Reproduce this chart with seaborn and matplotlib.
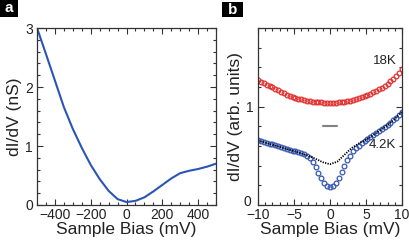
import numpy as np
import pandas as pd
import matplotlib
matplotlib.use("Agg")
import matplotlib.pyplot as plt
import matplotlib.transforms as mtransforms
import seaborn as sns
from matplotlib.ticker import MultipleLocator
from matplotlib.patches import Rectangle

# ---------------- data ----------------
# panel a: dI/dV (nS) vs sample bias (mV)
bias_a = [-500, -450, -400, -350, -300, -250, -200, -150, -100, -50, 0,
          50, 100, 150, 200, 250, 300, 350, 400, 450, 500]
didv_a = [3.00, 2.56, 2.11, 1.66, 1.29, 0.97, 0.68, 0.44, 0.24, 0.10, 0.05,
          0.07, 0.13, 0.23, 0.34, 0.45, 0.54, 0.58, 0.61, 0.65, 0.70]

# panel b: dI/dV (arb. units) vs sample bias (mV)
bias_b = [-10.0, -9.6, -9.2, -8.8, -8.4, -8.0, -7.6, -7.2, -6.8, -6.4,
          -6.0, -5.6, -5.2, -4.8, -4.4, -4.0, -3.6, -3.2, -2.8, -2.4,
          -2.0, -1.6, -1.2, -0.8, -0.4, 0.0, 0.4, 0.8, 1.2, 1.6,
          2.0, 2.4, 2.8, 3.2, 3.6, 4.0, 4.4, 4.8, 5.2, 5.6,
          6.0, 6.4, 6.8, 7.2, 7.6, 8.0, 8.4, 8.8, 9.2, 9.6, 10.0]
didv_18K = [1.270, 1.255, 1.240, 1.225, 1.210, 1.195, 1.180, 1.165, 1.150, 1.136,
            1.122, 1.110, 1.099, 1.090, 1.081, 1.074, 1.067, 1.061, 1.056, 1.052,
            1.048, 1.045, 1.043, 1.041, 1.040, 1.040, 1.041, 1.042, 1.044, 1.047,
            1.051, 1.056, 1.062, 1.069, 1.077, 1.086, 1.096, 1.107, 1.119, 1.132,
            1.146, 1.161, 1.177, 1.194, 1.213, 1.234, 1.257, 1.283, 1.312, 1.345, 1.385]
didv_4K = [0.660, 0.652, 0.643, 0.634, 0.625, 0.616, 0.606, 0.596, 0.586, 0.576,
           0.567, 0.559, 0.552, 0.545, 0.538, 0.530, 0.520, 0.503, 0.478, 0.440,
           0.390, 0.330, 0.275, 0.225, 0.190, 0.178, 0.190, 0.225, 0.275, 0.335,
           0.400, 0.455, 0.500, 0.545, 0.578, 0.605, 0.628, 0.650, 0.672, 0.693,
           0.713, 0.733, 0.753, 0.773, 0.793, 0.815, 0.838, 0.862, 0.887, 0.915, 0.950]

bias_fit = [-10, -9, -8, -7, -6, -5, -4, -3, -2, -1, 0, 1, 2, 3, 4, 5, 6, 7, 8, 9, 10]
didv_fit = [0.655, 0.635, 0.613, 0.592, 0.570, 0.548, 0.525, 0.500, 0.470, 0.435, 0.415,
            0.440, 0.510, 0.580, 0.625, 0.665, 0.710, 0.765, 0.815, 0.875, 0.950]

gap_bar_x = [-0.95, 0.95]
gap_bar_y = [0.80, 0.80]

labels_b = ["18K", "4.2K"]

# ---------------- style ----------------
sns.set_style("ticks")
plt.rcParams["font.family"] = ["Liberation Sans", "DejaVu Sans"]
plt.rcParams["xtick.direction"] = "in"
plt.rcParams["ytick.direction"] = "in"

fig = plt.figure(figsize=(4.09, 2.46), dpi=100)
ax1 = fig.add_axes([37 / 409, 1 - 205 / 246, (216 - 37) / 409, (205 - 28) / 246])
ax2 = fig.add_axes([258 / 409, 1 - 205 / 246, (402 - 258) / 409, (205 - 28) / 246])

blue_line = "#2b55b4"
blue_pts = "#3558b0"
red_pts = "#e2302f"
txt = "#222222"

# panel a
sns.lineplot(x=bias_a, y=didv_a, ax=ax1, color=blue_line, lw=1.5)
ax1.set_xlim(-500, 500)
ax1.set_ylim(0, 3)
ax1.xaxis.set_minor_locator(MultipleLocator(50))
ax1.yaxis.set_major_locator(MultipleLocator(1))
ax1.yaxis.set_minor_locator(MultipleLocator(0.2))
ax1.set_xticks([-400, -200, 0, 200, 400])
ax1.set_xlabel("Sample Bias (mV)", fontsize=12.5, color=txt, labelpad=0)
ax1.set_ylabel("dI/dV (nS)", fontsize=12.5, color=txt, labelpad=2)

# panel b
df18 = pd.DataFrame({"x": bias_b, "y": didv_18K})
df4 = pd.DataFrame({"x": bias_b, "y": didv_4K})
sns.lineplot(data=df18, x="x", y="y", ax=ax2, linestyle="", marker="o",
             markersize=3.4, markerfacecolor="none", markeredgecolor=red_pts,
             markeredgewidth=0.9, color=red_pts)
sns.lineplot(data=df4, x="x", y="y", ax=ax2, linestyle="", marker="o",
             markersize=3.4, markerfacecolor="none", markeredgecolor=blue_pts,
             markeredgewidth=0.9, color=blue_pts)
sns.lineplot(x=bias_fit, y=didv_fit, ax=ax2, color="black", lw=1.3,
             linestyle=(0, (0.7, 0.7)))
sns.lineplot(x=gap_bar_x, y=gap_bar_y, ax=ax2, color="#808080", lw=1.5)
ax2.set_xlim(-10, 10)
ax2.set_ylim(0, 1.8)
ax2.xaxis.set_major_locator(MultipleLocator(5))
ax2.xaxis.set_minor_locator(MultipleLocator(1))
ax2.set_yticks([0, 1])
ax2.yaxis.set_minor_locator(MultipleLocator(0.2))
ax2.set_xlabel("Sample Bias (mV)", fontsize=12.5, color=txt, labelpad=0)
ax2.set_ylabel("dI/dV (arb. units)", fontsize=12.5, color=txt, labelpad=1)
ax2.text(9.3, 1.46, labels_b[0], ha="right", va="center", fontsize=9.5, color=txt)
ax2.text(9.2, 0.61, labels_b[1], ha="right", va="center", fontsize=9.5, color=txt)

for ax in (ax1, ax2):
    ax.tick_params(which="both", top=True, right=True, direction="in",
                   labelsize=10, labelcolor=txt, color="#333333", width=0.8)
    ax.tick_params(axis="x", which="major", pad=2)
    ax.tick_params(axis="y", which="major", pad=3)
    ax.tick_params(which="major", length=4.5)
    ax.tick_params(which="minor", length=2.5)
    for s in ax.spines.values():
        s.set_visible(True)
        s.set_linewidth(0.9)
        s.set_color("#333333")

# nudge the "0" y-label of panel b up and left so it does not collide with "-10"
fig.canvas.draw()
shift = mtransforms.ScaledTranslation(-1.5 / 72, 3.5 / 72, fig.dpi_scale_trans)
for lab in ax2.get_yticklabels():
    if lab.get_text() in ("0", "0.0"):
        lab.set_transform(lab.get_transform() + shift)

# panel letters
for (x0, x1, y0, y1, letter) in [(0, 18, 0, 17, "a"), (222, 243, 2, 17, "b")]:
    fig.patches.append(Rectangle((x0 / 409, 1 - y1 / 246), (x1 - x0) / 409, (y1 - y0) / 246,
                                 transform=fig.transFigure, facecolor="black",
                                 edgecolor="none", zorder=5))
    fig.text((x0 + x1) / 2 / 409, 1 - (y0 + y1) / 2 / 246, letter, color="white",
             fontsize=11, fontweight="bold", ha="center", va="center", zorder=6)

fig.savefig("out.png", dpi=100)
